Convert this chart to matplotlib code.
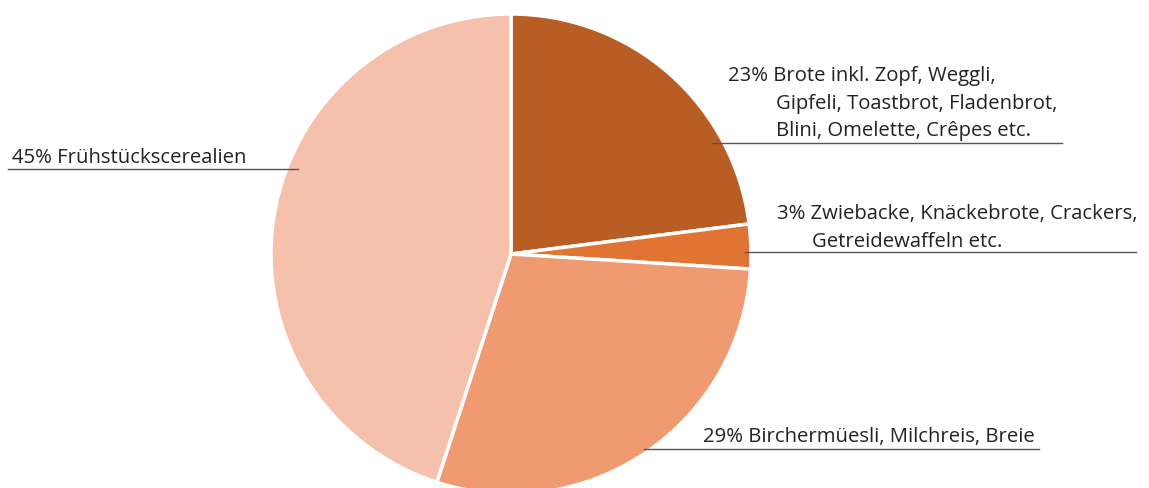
import matplotlib.pyplot as plt

# shares of breakfast cereal products, clockwise from 12 o'clock
shares = [23, 3, 29, 45]
label_lines = [
    ["23% Brote inkl. Zopf, Weggli,", "Gipfeli, Toastbrot, Fladenbrot,", "Blini, Omelette, Crêpes etc."],
    ["3% Zwiebacke, Knäckebrote, Crackers,", "Getreidewaffeln etc."],
    ["29% Birchermüesli, Milchreis, Breie"],
    ["45% Frühstückscerealien"],
]
colors = ["#b85e24", "#e07433", "#ef9a71", "#f5c1ad"]

W, H = 1149, 489
fig = plt.figure(figsize=(W / 100, H / 100), dpi=100)
ax = fig.add_axes([0, 0, 1, 1])

cx, cy, r = 511, H - 255, 240
ax.pie(shares, colors=colors, startangle=90, counterclock=False,
       center=(cx, cy), radius=r, frame=True,
       wedgeprops=dict(edgecolor="white", linewidth=2.5))

ax.set_xlim(0, W)
ax.set_ylim(0, H)
ax.set_aspect("equal")
ax.axis("off")

# per label: x of first line, x of following lines, first baseline (image coords)
text_pos = [(728, 776, 81), (777, 812, 219), (703, 703, 442), (12, 12, 163)]
lines = [(712, 1062, 144), (745, 1136, 253), (644, 1039, 450), (8, 298, 170)]
step = 27.7

for lab, (x1st, xrest, by), (x0, x1, ly) in zip(label_lines, text_pos, lines):
    for i, s in enumerate(lab):
        ax.text(x1st if i == 0 else xrest, H - (by + i * step), s,
                ha="left", va="baseline", fontsize=14.6,
                family="Open Sans", color="#222222")
    ax.plot([x0, x1], [H - ly, H - ly], color="#555555", lw=1)

fig.savefig("out.png", dpi=100)
